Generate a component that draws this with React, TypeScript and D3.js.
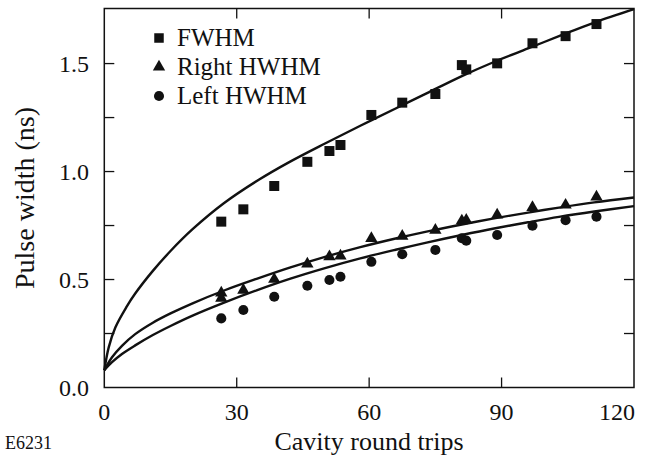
import React, { useEffect, useRef } from 'react';
import * as d3 from 'd3';

// measured round-trip positions (shared by the FWHM and left HWHM series)
const trips = [26.5, 31.5, 38.5, 46, 51, 53.5, 60.5, 67.5, 75, 81, 82, 89, 97, 104.5, 111.5];

const fwhm = [0.768, 0.825, 0.933, 1.045, 1.095, 1.123, 1.262, 1.319, 1.359, 1.493, 1.473, 1.501, 1.594, 1.627, 1.683];
const rightHwhmX = [26.5, 26.5, 31.5, 38.5, 46, 51, 53.5, 60.5, 67.5, 75, 81, 82, 89, 97, 104.5, 111.5];
const rightHwhm = [0.438, 0.414, 0.451, 0.501, 0.572, 0.606, 0.609, 0.69, 0.701, 0.729, 0.772, 0.775, 0.799, 0.834, 0.845, 0.883];
const leftHwhm = [0.32, 0.359, 0.42, 0.471, 0.498, 0.513, 0.582, 0.617, 0.637, 0.691, 0.68, 0.706, 0.749, 0.775, 0.791];

// fitted curves
const fitX = [0, 1, 2.5, 5, 7, 11, 15, 20, 27, 35, 42, 50, 58, 66, 73, 81, 88, 96, 103, 111, 120];
const fitFwhm = [0.08, 0.186, 0.278, 0.372, 0.435, 0.54, 0.632, 0.733, 0.852, 0.962, 1.045, 1.13, 1.212, 1.292, 1.362, 1.442, 1.505, 1.57, 1.627, 1.69, 1.752];
const fitRightX = [0, 1.75, 4, 7, 11, 15, 20, 27, 34.5, 42, 50, 58, 66, 73, 81, 88, 96, 103, 111, 120];
const fitRight = [0.08, 0.14, 0.193, 0.247, 0.3, 0.343, 0.39, 0.448, 0.503, 0.555, 0.605, 0.65, 0.69, 0.722, 0.755, 0.782, 0.81, 0.833, 0.857, 0.88];
const fitLeftX = [0, 1.75, 4, 7, 11, 15, 20, 27, 34.5, 42, 50, 58, 66, 73, 81, 88, 96, 103, 111, 120];
const fitLeft = [0.08, 0.117, 0.155, 0.195, 0.243, 0.285, 0.333, 0.392, 0.45, 0.503, 0.553, 0.598, 0.638, 0.671, 0.706, 0.735, 0.765, 0.79, 0.815, 0.84];

const xTicks = [0, 30, 60, 90, 120];
const yTicks = [0, 0.5, 1.0, 1.5];
const yMinor = [0.25, 0.5, 0.75, 1.0, 1.25, 1.5];
const xInner = [30, 60, 90];

const legend = ['FWHM', 'Right HWHM', 'Left HWHM'];

const ink = '#111';
const serif = 'Liberation Serif';

export default function App() {
  const ref = useRef<SVGSVGElement>(null);

  // force the serif face on every label
  useEffect(() => {
    d3.select(ref.current).selectAll('text').each(function () {
      (this as SVGTextElement).style.setProperty('font-family', '"Liberation Serif", serif', 'important');
    });
  }, []);

  const left = 104.3, right = 634, top = 8.5, bottom = 387.5;
  const x = d3.scaleLinear().domain([0, 120]).range([left, right]);
  const y = d3.scaleLinear().domain([0, 1.755]).range([bottom, top]);

  const line = d3.line<[number, number]>()
    .x(d => x(d[0]))
    .y(d => y(d[1]))
    .curve(d3.curveCatmullRom.alpha(0.5));

  const sq = d3.symbol().type(d3.symbolSquare).size(100)()!;
  const tri = d3.symbol().type(d3.symbolTriangle).size(66)()!;
  const dot = d3.symbol().type(d3.symbolCircle).size(80)()!;

  const tickLen = 10;

  return (
    <svg ref={ref} width={663} height={462} fontFamily={serif}
      style={{ position: 'absolute', left: 0, top: 0 }}>
      <style>{`#root svg text { font-family: "Liberation Serif", serif !important; }`}</style>
      <rect x={0} y={0} width={663} height={462} fill="#fff" />

      {/* frame */}
      <rect x={left} y={top} width={right - left} height={bottom - top} fill="none" stroke={ink} strokeWidth={1.5} />

      {/* y ticks, left and right, inward */}
      {yMinor.map(v => (
        <g key={'yt' + v}>
          <line x1={left} x2={left + tickLen} y1={y(v)} y2={y(v)} stroke={ink} strokeWidth={1.3} />
          <line x1={right} x2={right - tickLen} y1={y(v)} y2={y(v)} stroke={ink} strokeWidth={1.3} />
        </g>
      ))}
      {/* x ticks, bottom and top, inward */}
      {xInner.map(v => (
        <g key={'xt' + v}>
          <line x1={x(v)} x2={x(v)} y1={bottom} y2={bottom - tickLen} stroke={ink} strokeWidth={1.3} />
          <line x1={x(v)} x2={x(v)} y1={top} y2={top + tickLen} stroke={ink} strokeWidth={1.3} />
        </g>
      ))}

      {/* tick labels */}
      {yTicks.map(v => (
        <text key={'yl' + v} x={89} y={y(v)} dy="0.35em" textAnchor="end" fontSize={24} fill={ink} fontFamily={serif}>
          {v.toFixed(1)}
        </text>
      ))}
      {xTicks.map(v => (
        <text key={'xl' + v} x={x(v)} y={420} textAnchor={v === 120 ? 'end' : 'middle'} dx={v === 120 ? 1 : 0}
          fontSize={24} fill={ink} fontFamily={serif}>
          {v}
        </text>
      ))}

      {/* axis titles */}
      <text x={369} y={450} textAnchor="middle" fontSize={26} fill={ink} fontFamily={serif}>Cavity round trips</text>
      <text transform={`translate(34,198) rotate(-90)`} textAnchor="middle" fontSize={28} fill={ink} fontFamily={serif}>Pulse width (ns)</text>
      <text x={5} y={449} fontSize={18} fill={ink} fontFamily={serif}>E6231</text>

      {/* fitted curves */}
      <path d={line(fitX.map((v, i) => [v, fitFwhm[i]]))!} fill="none" stroke={ink} strokeWidth={2.4} />
      <path d={line(fitRightX.map((v, i) => [v, fitRight[i]]))!} fill="none" stroke={ink} strokeWidth={2.4} />
      <path d={line(fitLeftX.map((v, i) => [v, fitLeft[i]]))!} fill="none" stroke={ink} strokeWidth={2.4} />

      {/* data points */}
      {trips.map((v, i) => (
        <path key={'s' + i} d={sq} transform={`translate(${x(v)},${y(fwhm[i])})`} fill={ink} />
      ))}
      {rightHwhmX.map((v, i) => (
        <path key={'t' + i} d={tri} transform={`translate(${x(v)},${y(rightHwhm[i])})`} fill={ink} />
      ))}
      {trips.map((v, i) => (
        <path key={'c' + i} d={dot} transform={`translate(${x(v)},${y(leftHwhm[i])})`} fill={ink} />
      ))}

      {/* legend */}
      {legend.map((name, i) => (
        <g key={name} transform={`translate(159,${38 + i * 29})`}>
          <path d={i === 0 ? sq : i === 1 ? tri : dot} fill={ink} transform={i === 0 ? 'scale(0.95)' : undefined} />
          <text x={18} y={8} fontSize={25} fill={ink} fontFamily={serif}>{name}</text>
        </g>
      ))}
    </svg>
  );
}
